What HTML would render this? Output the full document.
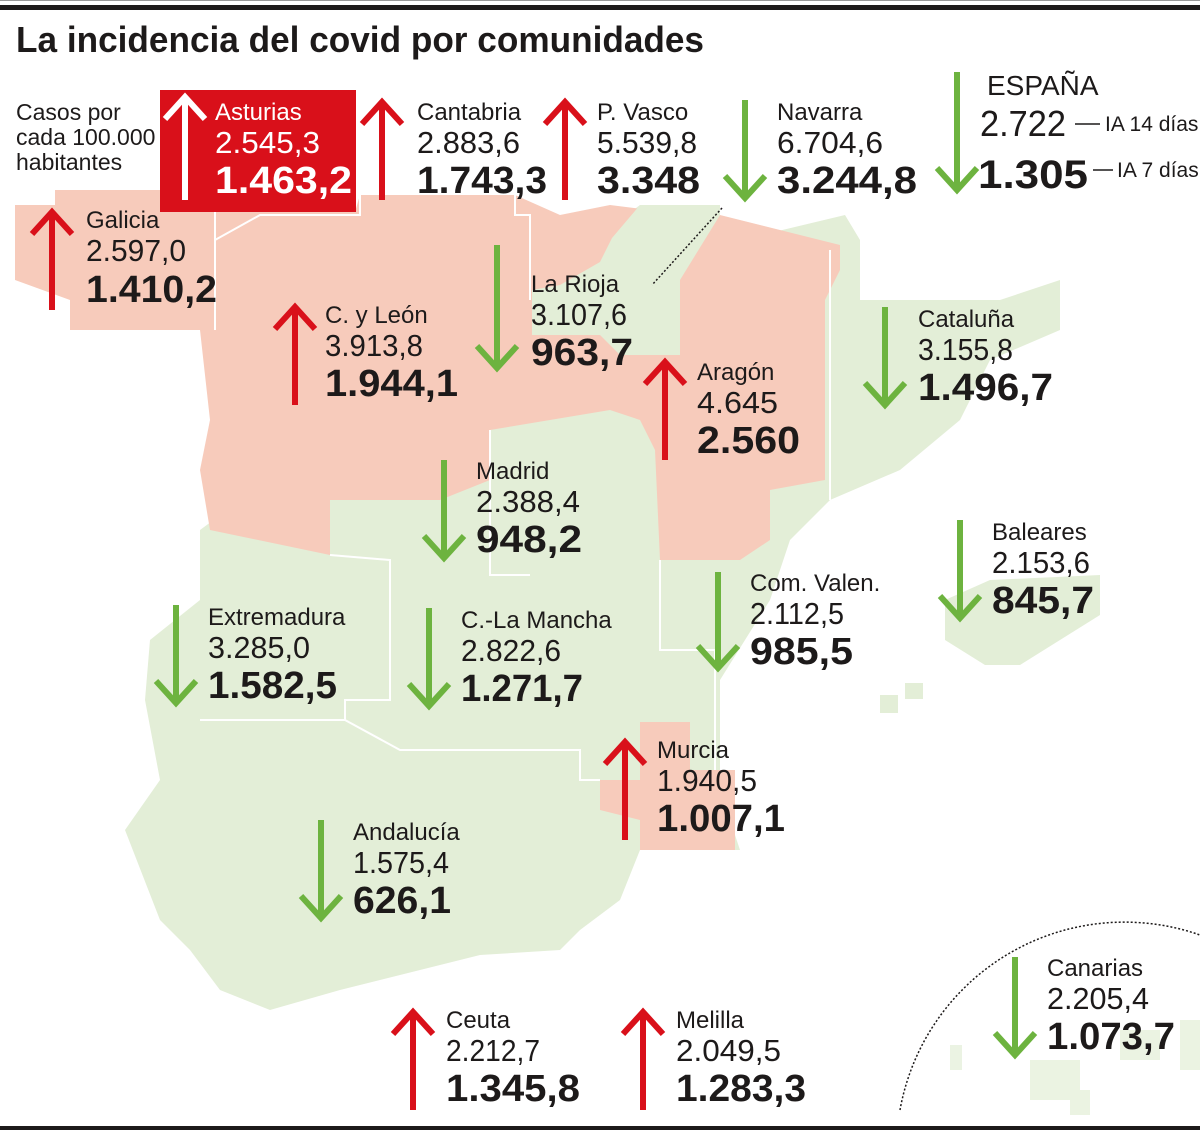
<!DOCTYPE html>
<html><head><meta charset="utf-8"><style>
html,body{margin:0;padding:0;background:#fff;}
svg{display:block;}
text{font-family:"Liberation Sans Narrow","Liberation Sans",sans-serif;fill:#1d1a1a;}
.n{font-size:24px;}
.v{font-size:31px;}
.b{font-size:38px;font-weight:bold;}
</style></head><body>
<svg width="1200" height="1131" viewBox="0 0 1200 1131" xmlns="http://www.w3.org/2000/svg">
<rect x="0" y="0" width="1200" height="1131" fill="#fff"/>
<rect x="0" y="0" width="1200" height="1" fill="#999"/>
<rect x="0" y="5" width="1200" height="5" fill="#1d1a1a"/>
<rect x="0" y="1126" width="1200" height="4" fill="#1d1a1a"/>
<text x="16" y="52" style="font-size:36px;font-weight:bold" textLength="688" lengthAdjust="spacingAndGlyphs">La incidencia del covid por comunidades</text>

<!-- green base -->
<polygon fill="#e3eed7" points="640,205 720,205 720,245 845,215 860,240 860,300 1000,300 1060,280 1060,330 990,360 960,420 900,470 830,500 790,540 770,600 720,680 720,790 740,850 640,850 620,900 580,930 560,950 480,955 340,990 270,1010 220,990 190,950 160,920 125,830 160,780 145,700 150,640 200,600 200,530"/>
<polygon fill="#e3eed7" points="945,600 990,580 1100,575 1100,615 1060,640 1020,665 985,665 945,640"/>
<rect x="880" y="695" width="18" height="18" fill="#e3eed7"/>
<rect x="905" y="683" width="18" height="16" fill="#e3eed7"/>
<g fill="#e3eed7" opacity=".7">
<rect x="1030" y="1060" width="50" height="40"/>
<rect x="1120" y="1030" width="40" height="30"/>
<rect x="1180" y="1020" width="20" height="50"/>
<rect x="950" y="1045" width="12" height="25"/>
<rect x="1070" y="1090" width="20" height="25"/>
</g>
<!-- pink north -->
<polygon fill="#f7cbbb" points="15,205 55,205 55,190 160,190 160,212 355,212 360,195 515,195 560,215 610,205 650,210 640,260 630,330 625,380 610,410 490,430 490,480 440,500 330,500 330,555 210,530 200,470 210,420 200,330 70,330 70,300 15,280"/>
<!-- Navarra / La Rioja green -->
<polygon fill="#e3eed7" points="532,290 560,285 600,262 612,238 640,205 720,205 720,245 680,280 680,355 620,355 600,335 532,335"/>
<polygon fill="#f7cbbb" points="680,280 720,215 840,245 840,270 825,300 825,480 770,490 770,540 740,560 660,560 655,450 640,420 610,410 625,355 680,355"/>
<polygon fill="#f7cbbb" points="640,722 690,722 690,770 735,770 735,850 640,850 640,820 600,810 600,780 640,780"/>
<!-- borders -->
<g stroke="#fff" stroke-width="2" fill="none">
<polyline points="215,195 215,330"/>
<polyline points="215,240 260,215 360,215 360,195"/>
<polyline points="515,195 515,215 530,215 530,300"/>
<polyline points="330,555 330,555 390,560 390,700 345,700 345,720"/>
<polyline points="490,430 490,575 530,575"/>
<polyline points="660,560 660,650 715,650 715,770"/>
<polyline points="200,720 345,720 400,750 580,750 580,780 600,780"/>
<polyline points="830,500 830,250"/>
</g>
<!-- Asturias box -->
<rect x="160" y="90" width="196" height="122" fill="#d9101a"/>

<g stroke-width="6" fill="none">
<g stroke="#d9101a">
<path d="M52 310V212M32 234L52 212L72 234"/>
<path d="M382 200V102M362 124L382 102L402 124"/>
<path d="M565 200V102M545 124L565 102L585 124"/>
<path d="M295 405V307M275 329L295 307L315 329"/>
<path d="M665 460V362M645 384L665 362L685 384"/>
<path d="M625 840V742M605 764L625 742L645 764"/>
<path d="M413 1110V1012M393 1034L413 1012L433 1034"/>
<path d="M643 1110V1012M623 1034L643 1012L663 1034"/>
</g>
<path stroke="#fff" d="M185 200V97M165 119L185 97L205 119"/>
<g stroke="#6db33f">
<path d="M745 100V198M725 176L745 198L765 176"/>
<path d="M957 72V190M937 168L957 190L977 168"/>
<path d="M497 245V368M477 346L497 368L517 346"/>
<path d="M885 307V405M865 383L885 405L905 383"/>
<path d="M444 460V558M424 536L444 558L464 536"/>
<path d="M960 520V618M940 596L960 618L980 596"/>
<path d="M718 572V668M698 646L718 668L738 646"/>
<path d="M176 605V703M156 681L176 703L196 681"/>
<path d="M429 608V706M409 684L429 706L449 684"/>
<path d="M321 820V918M301 896L321 918L341 896"/>
<path d="M1015 957V1055M995 1033L1015 1055L1035 1033"/>
</g>
</g>
<line x1="722" y1="208" x2="652" y2="285" stroke="#1d1a1a" stroke-width="1.5" stroke-dasharray="2,2"/>
<path d="M900 1110 A228 228 0 0 1 1200 935" fill="none" stroke="#1d1a1a" stroke-width="1.5" stroke-dasharray="2,2"/>
<line x1="1075" y1="124" x2="1100" y2="124" stroke="#1d1a1a" stroke-width="1.5"/>
<line x1="1093" y1="170" x2="1113" y2="170" stroke="#1d1a1a" stroke-width="1.5"/>

<text x="16" y="120" style="font-size:23px">Casos por</text>
<text x="16" y="145" style="font-size:23px">cada 100.000</text>
<text x="16" y="170" style="font-size:23px">habitantes</text>

<text x="215" y="120" class="n" style="fill:#fff">Asturias</text>
<text x="215" y="153" class="v" style="fill:#fff" textLength="105" lengthAdjust="spacingAndGlyphs">2.545,3</text>
<text x="215" y="193" class="b" style="fill:#fff" textLength="137" lengthAdjust="spacingAndGlyphs">1.463,2</text>

<text x="417" y="120" class="n">Cantabria</text>
<text x="417" y="153" class="v" textLength="103" lengthAdjust="spacingAndGlyphs">2.883,6</text>
<text x="417" y="193" class="b" textLength="130" lengthAdjust="spacingAndGlyphs">1.743,3</text>

<text x="597" y="120" class="n">P. Vasco</text>
<text x="597" y="153" class="v" textLength="100" lengthAdjust="spacingAndGlyphs">5.539,8</text>
<text x="597" y="193" class="b" textLength="103" lengthAdjust="spacingAndGlyphs">3.348</text>

<text x="777" y="120" class="n">Navarra</text>
<text x="777" y="153" class="v" textLength="106" lengthAdjust="spacingAndGlyphs">6.704,6</text>
<text x="777" y="193" class="b" textLength="140" lengthAdjust="spacingAndGlyphs">3.244,8</text>

<text x="987" y="95" style="font-size:28px">ESPAÑA</text>
<text x="980" y="136" style="font-size:36px" textLength="86" lengthAdjust="spacingAndGlyphs">2.722</text>
<text x="978" y="188" style="font-size:40px;font-weight:bold" textLength="110" lengthAdjust="spacingAndGlyphs">1.305</text>
<text x="1105" y="131" style="font-size:21px">IA 14 días</text>
<text x="1117" y="177" style="font-size:21px">IA 7 días</text>

<text x="86" y="228" class="n">Galicia</text>
<text x="86" y="261" class="v" textLength="100" lengthAdjust="spacingAndGlyphs">2.597,0</text>
<text x="86" y="302" class="b" textLength="131" lengthAdjust="spacingAndGlyphs">1.410,2</text>

<text x="325" y="323" class="n">C. y León</text>
<text x="325" y="356" class="v" textLength="98" lengthAdjust="spacingAndGlyphs">3.913,8</text>
<text x="325" y="396" class="b" textLength="133" lengthAdjust="spacingAndGlyphs">1.944,1</text>

<text x="531" y="292" class="n">La Rioja</text>
<text x="531" y="325" class="v" textLength="96" lengthAdjust="spacingAndGlyphs">3.107,6</text>
<text x="531" y="365" class="b" textLength="102" lengthAdjust="spacingAndGlyphs">963,7</text>

<text x="918" y="327" class="n">Cataluña</text>
<text x="918" y="360" class="v" textLength="95" lengthAdjust="spacingAndGlyphs">3.155,8</text>
<text x="918" y="400" class="b" textLength="135" lengthAdjust="spacingAndGlyphs">1.496,7</text>

<text x="697" y="380" class="n">Aragón</text>
<text x="697" y="413" class="v" textLength="81" lengthAdjust="spacingAndGlyphs">4.645</text>
<text x="697" y="453" class="b" textLength="103" lengthAdjust="spacingAndGlyphs">2.560</text>

<text x="476" y="479" class="n">Madrid</text>
<text x="476" y="512" class="v" textLength="104" lengthAdjust="spacingAndGlyphs">2.388,4</text>
<text x="476" y="552" class="b" textLength="106" lengthAdjust="spacingAndGlyphs">948,2</text>

<text x="992" y="540" class="n">Baleares</text>
<text x="992" y="573" class="v" textLength="98" lengthAdjust="spacingAndGlyphs">2.153,6</text>
<text x="992" y="613" class="b" textLength="102" lengthAdjust="spacingAndGlyphs">845,7</text>

<text x="750" y="591" class="n">Com. Valen.</text>
<text x="750" y="624" class="v" textLength="94" lengthAdjust="spacingAndGlyphs">2.112,5</text>
<text x="750" y="664" class="b" textLength="103" lengthAdjust="spacingAndGlyphs">985,5</text>

<text x="208" y="625" class="n">Extremadura</text>
<text x="208" y="658" class="v" textLength="102" lengthAdjust="spacingAndGlyphs">3.285,0</text>
<text x="208" y="698" class="b" textLength="129" lengthAdjust="spacingAndGlyphs">1.582,5</text>

<text x="461" y="628" class="n">C.-La Mancha</text>
<text x="461" y="661" class="v" textLength="100" lengthAdjust="spacingAndGlyphs">2.822,6</text>
<text x="461" y="701" class="b" textLength="122" lengthAdjust="spacingAndGlyphs">1.271,7</text>

<text x="657" y="758" class="n">Murcia</text>
<text x="657" y="791" class="v" textLength="100" lengthAdjust="spacingAndGlyphs">1.940,5</text>
<text x="657" y="831" class="b" textLength="128" lengthAdjust="spacingAndGlyphs">1.007,1</text>

<text x="353" y="840" class="n">Andalucía</text>
<text x="353" y="873" class="v" textLength="96" lengthAdjust="spacingAndGlyphs">1.575,4</text>
<text x="353" y="913" class="b" textLength="98" lengthAdjust="spacingAndGlyphs">626,1</text>

<text x="1047" y="976" class="n">Canarias</text>
<text x="1047" y="1009" class="v" textLength="102" lengthAdjust="spacingAndGlyphs">2.205,4</text>
<text x="1047" y="1049" class="b" textLength="128" lengthAdjust="spacingAndGlyphs">1.073,7</text>

<text x="446" y="1028" class="n">Ceuta</text>
<text x="446" y="1061" class="v" textLength="94" lengthAdjust="spacingAndGlyphs">2.212,7</text>
<text x="446" y="1101" class="b" textLength="134" lengthAdjust="spacingAndGlyphs">1.345,8</text>

<text x="676" y="1028" class="n">Melilla</text>
<text x="676" y="1061" class="v" textLength="105" lengthAdjust="spacingAndGlyphs">2.049,5</text>
<text x="676" y="1101" class="b" textLength="130" lengthAdjust="spacingAndGlyphs">1.283,3</text>
</svg>
</body></html>
